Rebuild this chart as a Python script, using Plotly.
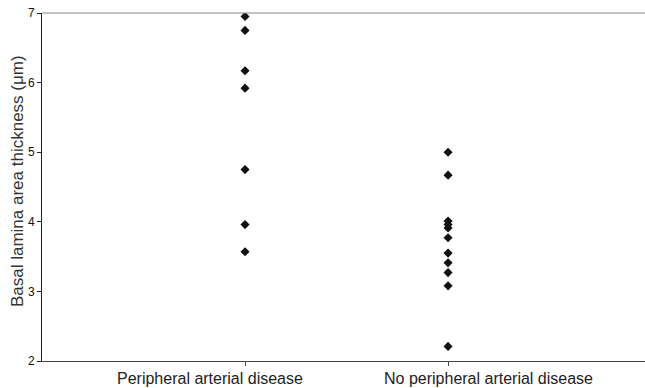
import plotly.graph_objects as go

categories = ["Peripheral arterial disease", "No peripheral arterial disease"]
pad_values = [6.95, 6.75, 6.17, 5.92, 4.75, 3.96, 3.57]
no_pad_values = [5.0, 4.67, 4.01, 3.96, 3.91, 3.77, 3.55, 3.41, 3.27, 3.08, 2.21]
y_ticks = [2, 3, 4, 5, 6, 7]
y_title = "Basal lamina area thickness (μm)"

fig = go.Figure()
for i, vals in enumerate([pad_values, no_pad_values]):
    fig.add_trace(go.Scatter(
        x=[i + 1] * len(vals), y=vals, mode="markers",
        marker=dict(symbol="diamond", size=7, color="#111111"),
        showlegend=False,
    ))

# category labels (offset from ticks as in the original)
label_shifts = [-35, 40]
annotations = [
    dict(x=i + 1, xref="x", y=0, yref="paper", text=cat, showarrow=False,
         xanchor="center", yanchor="top", yshift=-7, xshift=label_shifts[i],
         font=dict(size=16, color="#222222"))
    for i, cat in enumerate(categories)
]
annotations.append(dict(
    x=-0.0415, xref="paper", y=0.517, yref="paper", text=y_title, textangle=-90,
    showarrow=False, xanchor="center", yanchor="middle",
    font=dict(size=17, color="#333333"),
))

fig.update_layout(
    width=645, height=388,
    margin=dict(l=42, r=0, t=13, b=27),
    plot_bgcolor="white", paper_bgcolor="white",
    font=dict(family="Liberation Sans, Arial, sans-serif", color="#111111"),
    xaxis=dict(
        range=[0, 2.97], tickvals=[1, 2], ticktext=["", ""],
        showgrid=False, zeroline=False, showline=True, linecolor="#444444", linewidth=1,
        ticks="outside", ticklen=4, tickcolor="#444444",
    ),
    yaxis=dict(
        range=[2, 7], tickvals=y_ticks, showgrid=False, zeroline=False,
        showline=True, linecolor="#222222", linewidth=1,
        ticks="outside", ticklen=4, tickcolor="#222222",
        tickfont=dict(size=12, color="#111111"),
    ),
    annotations=annotations,
    shapes=[dict(type="line", xref="paper", yref="paper", x0=0, x1=1, y0=1, y1=1,
                 line=dict(color="#888888", width=1))],
)

fig.write_html(
    "out.html",
    config={"displayModeBar": False},
    post_script="document.body.style.margin='0';document.body.style.overflow='hidden';",
)
